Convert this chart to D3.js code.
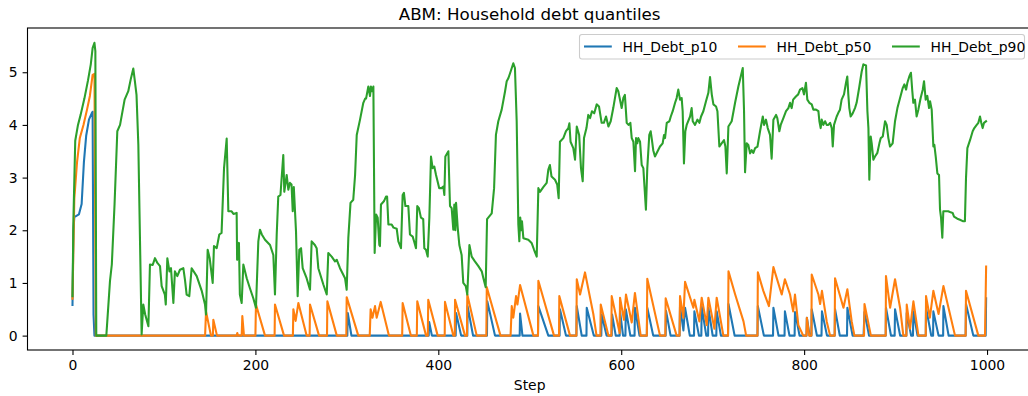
<!DOCTYPE html>
<html>
<head>
<meta charset="utf-8">
<script src="https://cdn.jsdelivr.net/npm/d3@7"></script>
<style>
  body { margin: 0; background: #fff; }
  svg { display: block; font-family: "DejaVu Sans", sans-serif; }
</style>
</head>
<body>
<div id="chart"></div>
<script>
// values, [step, value]
const p10 = [[0,0.58],[1,2.0],[2,2.25],[7,2.3],[10,2.5],[12.5,3.3],[15,3.8],[18,4.1],[21,4.22],[22,4.25],[23,0.4],[24,0],
  [300.5,0],[301,0.43],[305,0],[389.5,0],[390,0.26],[393,0],[419,0],[419.4,0.43],[425,0],[431.7,0],[432,0.56],[438,0],
  [453.2,0],[453.6,0.65],[462,0],[489,0],[489.4,0.42],[492,0],[509,0],[509.4,0.56],[520.3,0],[532.6,0],[533,0.5],[539.6,0],
  [551,0],[551.4,0.56],[556.8,0],[562,0],[562.3,0.53],[570,0],[578.2,0],[578.6,0.4],[584,0],[589.6,0],[590,0.4],[594,0],
  [598.3,0],[598.7,0.46],[602,0],[604.6,0],[605,0.5],[610,0],[614.6,0],[615,0.53],[620,0],[628,0],[628.5,0.53],[635,0],
  [648.6,0],[649,0.47],[654,0],[663.8,0],[664.3,0.56],[668,0.1],[669.8,0.53],[675,0],[679.6,0],[680,0.46],[685,0],
  [687.6,0],[688,0.55],[693,0],[695,0],[695.3,0.53],[700,0],[704,0],[704.4,0.46],[709,0],[716.8,0],[717.3,0.6],[724,0],
  [749,0],[749.4,0.56],[756,0],[766,0],[766.4,0.53],[772,0],[778.6,0],[779,0.46],[784,0],[789.6,0],[790,0.45],[795,0],
  [802.6,0],[803,0.34],[806,0],[808,0],[808.3,0.5],[814,0],[819,0],[819.5,0.46],[825,0],[833.4,0],[833.8,0.5],[839,0],
  [846.9,0],[847.3,0.53],[853,0],[865,0],[866,0.45],[871,0],[889.2,0],[889.5,0.53],[895,0],[899,0],[899.4,0.5],[905,0],
  [911.8,0],[912.2,0.43],[917,0],[919,0],[919.5,0.46],[924,0],[933,0],[933.3,0.53],[939,0],[941,0],[941.3,0.46],[947,0],
  [952,0],[952.3,0.56],[958,0],[976.6,0],[977,0.6],[985,0],[998.5,0],[999,0.71]];

const p50 = [[0,0.7],[2,2.6],[5,3.3],[8,3.75],[12,4.0],[16,4.3],[19,4.55],[22,4.95],[24,4.97],[25.5,0],
  [145,0],[146,0.46],[151.4,0],[153.5,0],[154,0.3],[158,0],[179.5,0],[180.2,0.05],[181,0],[185,0],[185.7,0.37],[187.5,0],
  [200,0],[200.6,0.59],[210.5,0],[221,0],[221.4,0.59],[231.3,0],[241,0],[241.5,0.5],[244,0.28],[247,0.62],[256,0],
  [259.3,0],[259.7,0.59],[269.6,0],[278.3,0],[278.7,0.65],[289,0],[299.4,0],[299.8,0.73],[312.5,0],[325,0],[326,0.5],
  [328,0.34],[330.8,0.56],[332.6,0.34],[337,0.64],[346,0],[360.5,0],[361,0.62],[370,0],[376.5,0],[377,0.65],[386.6,0],
  [388.5,0],[389,0.68],[399.3,0],[407,0],[407.3,0.64],[416.4,0],[418,0],[418.3,0.68],[429.2,0],[431.3,0],[431.7,0.78],
  [442,0],[452.5,0],[453,0.92],[468,0],[479,0],[480.3,0.56],[482,0.34],[485,0.75],[486.5,0.59],[489.4,0.96],[504,0],
  [509,0],[509.4,1.04],[526.5,0],[532,0],[532.3,0.75],[544,0],[551,0],[551.4,1.07],[555,0.78],[560.4,1.2],[569.5,0.41],
  [573,0],[577.2,0],[577.6,0.59],[586,0],[589.2,0],[589.6,0.75],[598.3,0.05],[598.7,0.72],[603,0.3],[605.2,0.78],
  [611.5,0.25],[615,0.81],[621.3,0],[628,0],[628.5,1.08],[642.4,0],[648.2,0],[648.6,0.71],[660.6,0],[663.8,0],[664.3,0.75],
  [668,0.34],[669.8,1.02],[678.9,0.53],[680,0.68],[685.5,0.27],[688,0.72],[693.5,0.2],[695.3,0.72],[701.9,0.13],
  [704.4,0.72],[711.7,0],[716.8,0],[717.3,1.22],[724.6,0.78],[733.7,0.27],[736.6,0],[749,0],[749.4,1.2],[755.4,0.85],
  [761.5,0.56],[766.4,1.3],[775.5,0.78],[779,1.07],[784.6,0.78],[788,0.46],[790,0.78],[793.7,0.2],[799,0],[802.5,0],
  [803,0.34],[805.5,0],[808,0],[808.3,1.16],[815.6,0.78],[817.5,0.6],[819.5,0.85],[824.7,0.27],[828.4,0],[833.4,0],
  [833.8,1.09],[843,0.53],[847.3,0.88],[852,0.27],[855,0],[865.5,0],[866,0.6],[873,0],[889.2,0],[889.5,1.13],[894,0.53],
  [899.4,1.07],[904.9,0.53],[908.5,0],[911.8,0],[912.2,0.59],[915.8,0.13],[919.5,0.65],[925,0],[933,0],[933.3,0.75],
  [937.5,0.34],[941.3,0.85],[947,0.41],[952.3,0.94],[965,0],[976.6,0],[977,0.85],[990.5,0],[997.8,0],[999,1.31]];

const p90 = [[0,0.75],[1,2.2],[3,3.7],[6,4.0],[9,4.2],[13,4.5],[17,4.85],[20,5.15],[22,5.46],[24,5.56],[25,5.4],[26,0],[37,0],
  [41,1.04],[43,1.35],[46,2.5],[49,3.88],[52,4.0],[57,4.48],[61,4.64],[63.6,4.86],[66.5,5.07],[68,4.86],[70,4.57],[72,3.62],
  [75.6,0.02],[77.4,0.59],[79.5,0.4],[83,0.18],[84.7,1.35],[87.7,1.34],[90.2,1.47],[92.8,1.38],[95.7,1.32],[97.5,0.94],
  [101,0.78],[102,0.59],[103.7,1.47],[106,1.22],[107.7,1.28],[110.3,0.62],[112,1.22],[114.6,1.13],[117.5,1.25],[121.2,1.28],
  [123,1.06],[124.8,0.78],[127.7,0.75],[130.3,1.28],[135.8,1.13],[141.3,0.85],[144.9,0.59],[146,0.4],[147.8,1.63],[150,1.47],
  [153.3,1.0],[154.7,1.7],[157.7,1.66],[160.5,1.92],[163,1.95],[165.7,3.18],[168.6,3.74],[170.4,2.36],[174,2.36],[176,2.31],
  [179.5,2.33],[180,1.44],[182,1.76],[183,0.78],[185,0.62],[186.8,1.35],[190.5,1.09],[194,0.9],[197.7,0.71],[200.6,0.53],
  [203.2,1.79],[205,2.01],[207,1.92],[210.5,1.82],[216,1.72],[219.6,1.53],[221.4,0.78],[223.3,1.92],[225,2.64],[227.4,2.67],
  [230.5,3.43],[231.6,2.73],[234.2,3.05],[236,2.77],[237.8,2.9],[239.5,2.87],[240.8,2.36],[242,2.82],[244.4,1.98],
  [246.2,0.75],[248,1.63],[249.9,1.66],[251.7,1.28],[256,1.09],[259.7,0.87],[261.5,1.79],[265,1.72],[267,1.66],[268.8,1.28],
  [274.3,0.97],[278,0.78],[279.7,1.57],[283.4,1.5],[287,1.41],[289,1.44],[292.5,1.28],[298,1.09],[299.8,0.87],[301.6,1.85],
  [304,2.52],[307,2.58],[309,3.05],[310.8,3.81],[314.4,4.1],[318,4.42],[320,4.5],[321,4.5],[323.5,4.73],[325.3,4.55],
  [326.3,4.73],[327.5,4.64],[329,4.73],[330.4,1.57],[332,2.3],[333.7,2.24],[335.5,1.72],[336.2,1.7],[337.3,2.49],
  [340.5,2.55],[342.8,2.64],[344,2.64],[345.4,2.11],[349,2.11],[351,2.05],[354.5,2.03],[356.3,1.79],[359.2,1.66],[361,2.67],
  [362.4,2.71],[364,2.46],[367.2,2.46],[369,1.92],[372,1.88],[373.5,1.79],[375.6,1.66],[377,2.46],[378.8,2.42],[381,2.24],
  [383.5,2.21],[384.7,1.66],[386.5,1.63],[388.4,1.5],[390.2,2.24],[392,3.4],[393.8,3.18],[395.6,3.21],[397.5,3.05],
  [399.3,2.92],[401,2.8],[403.5,2.8],[405.5,2.83],[406.6,2.67],[407.7,3.4],[411,3.5],[412.8,2.46],[414.6,2.42],[416.4,2.01],
  [417.5,2.49],[418.6,2.0],[419.4,2.52],[421.2,2.05],[423,1.72],[425.5,1.53],[427.3,1.0],[430,0.94],[431.7,0.78],[434,1.72],
  [436.5,1.5],[440,1.41],[443.8,1.32],[447.5,1.22],[449.3,1.09],[451.8,0.92],[453.3,2.21],[458.4,2.32],[461,2.8],[463,3.81],
  [465.6,4.07],[469.3,4.29],[473,4.64],[474.8,4.83],[476.7,4.89],[479,5.01],[482,5.17],[483.8,5.08],[485.7,4.07],
  [487.5,2.11],[488.6,1.79],[489.6,2.24],[490.7,2.0],[491.5,2.17],[493,1.85],[498.4,1.82],[502,1.76],[504.7,1.63],
  [507.6,1.5],[509.4,2.8],[511.2,2.73],[514.8,2.82],[518.5,2.9],[520.3,3.15],[522,3.24],[523.8,3.02],[527.6,2.96],[530,2.87],
  [531.6,2.61],[533,3.68],[536.7,3.75],[539.6,3.88],[542.2,3.94],[543.3,4.03],[544.6,3.68],[547.6,3.56],[549.5,3.34],
  [551.4,3.97],[554,3.81],[556,3.18],[557.9,2.93],[559.3,3.75],[562,3.94],[564,4.19],[566,4.13],[568,4.26],[570.5,4.22],
  [573.2,4.39],[575.7,4.35],[578.6,4.04],[581,4.04],[583.4,4.16],[586,3.97],[588.5,4.07],[591.3,4.32],[595,4.7],[596.8,4.64],
  [600.5,4.32],[602.3,4.51],[604,4.57],[606,4.04],[608,4.0],[610,4.04],[611.5,3.75],[613.3,3.68],[615.1,3.12],[616.2,3.75],
  [617.6,3.65],[618.7,3.75],[620.6,3.68],[622.4,3.24],[624.2,3.18],[627,2.39],[628.5,3.18],[630.7,3.81],[632.2,3.88],
  [633.6,3.71],[635,3.52],[636.9,3.4],[639.5,3.49],[642.4,3.59],[645.3,3.65],[646.8,3.81],[647.9,3.75],[649.8,4.04],
  [652.7,4.07],[654.2,4.16],[656.3,4.26],[658.9,4.42],[660.6,4.51],[662.4,4.67],[664.3,4.48],[666.1,4.51],[667.2,4.26],
  [668.6,3.27],[670.1,3.88],[671.6,4.0],[675.3,4.16],[677,4.32],[678.2,4.07],[680.7,4.0],[683.3,4.1],[685.5,4.04],
  [687.3,4.16],[689.8,4.26],[692.7,4.45],[695.3,4.61],[697.1,4.91],[699,4.58],[700.8,4.39],[703.7,4.35],[705.2,4.26],
  [707.3,3.59],[709.8,3.65],[712.4,3.71],[713.9,3.59],[715.4,3.08],[717.2,3.97],[720.8,4.07],[724.5,4.42],[728.1,4.73],
  [730.7,4.92],[732.9,5.08],[734.3,4.26],[735.4,3.1],[737.2,3.65],[739,3.62],[740.9,3.46],[742.7,3.52],[744.5,3.47],
  [746.4,3.56],[749,3.59],[751.8,3.88],[754.8,4.16],[756.2,4.0],[758.3,4.1],[760.2,3.94],[762.7,3.81],[764.5,3.36],
  [766.4,4.1],[769.3,4.19],[770.7,4.13],[772.9,3.88],[774.4,4.0],[777.3,4.13],[780.2,4.26],[782.8,4.32],[784.6,4.42],
  [786.4,4.32],[788,4.48],[791,4.54],[793.5,4.58],[795.5,4.67],[798.1,4.7],[799.9,4.58],[802,4.8],[803.5,4.48],[805.7,4.42],
  [808.3,4.39],[810.1,4.29],[813,4.29],[815.6,4.26],[816.7,4.07],[818.1,3.94],[819.2,4.1],[821,4.0],[822.9,4.07],[824.7,4.0],
  [826.5,4.0],[828.4,4.04],[830.2,3.94],[831.3,3.59],[832.7,4.0],[835.6,4.16],[837.4,4.23],[839.2,4.29],[841,4.48],
  [843.6,4.58],[845.8,4.8],[847.2,4.92],[848.3,4.58],[849.4,4.32],[850.9,4.16],[853.1,4.22],[855.6,4.32],[857.4,4.42],
  [860.4,4.73],[862.9,5.01],[864.8,5.15],[867.7,5.13],[869.2,4.26],[870.3,3.94],[871.3,2.96],[872.8,3.78],[873.9,3.65],
  [875.7,3.34],[877.5,3.4],[880.1,3.47],[882.3,3.65],[883.8,3.75],[886,3.78],[888.5,4.07],[890.3,4.0],[892.1,3.75],
  [893.9,3.59],[896.8,3.65],[899.4,4.07],[902,4.32],[904.9,4.51],[907.8,4.7],[909.6,4.77],[911.5,4.67],[912.9,4.8],
  [915,4.92],[916.8,4.99],[918.3,4.64],[919.4,4.42],[921.2,4.48],[923,4.16],[924.9,4.29],[927.4,4.51],[929.7,4.67],
  [931.1,4.83],[932.9,4.48],[934.7,4.55],[936.6,4.32],[937.7,4.45],[939.5,4.29],[941.3,3.59],[942.4,3.62],[943.9,3.4],
  [945.7,3.08],[947.5,3.05],[948.6,2.39],[949.7,2.24],[951.1,1.86],[952.2,2.36],[954,2.36],[957.6,2.36],[960.2,2.34],
  [962.4,2.33],[963.9,2.26],[967.5,2.22],[970.4,2.2],[974,2.17],[975.8,2.17],[977,2.99],[978.5,3.56],[981.4,3.71],
  [984.3,3.88],[986.1,3.94],[988.7,4.0],[990.5,4.04],[992.3,4.16],[993.7,4.04],[995.2,3.94],[996.7,4.04],[998.9,4.07]];

const seriesNames = ['HH_Debt_p10', 'HH_Debt_p50', 'HH_Debt_p90'];
const seriesColors = ['#1f77b4', '#ff7f0e', '#2ca02c'];
const xTicks = [0, 200, 400, 600, 800, 1000];
const yTicks = [0, 1, 2, 3, 4, 5];
const chartTitle = 'ABM: Household debt quantiles';
const xLabel = 'Step';

const width = 1028;
const height = 396;
const plotLeft = 27.5, plotRight = 1031.8, plotTop = 28, plotBottom = 350;

const svg = d3.select('#chart').append('svg')
  .attr('width', width)
  .attr('height', height);

const xScale = d3.scaleLinear().domain([-49.2, 1048.95]).range([plotLeft, plotRight]);
const yScale = d3.scaleLinear().domain([-0.273, 5.84]).range([plotBottom, plotTop]);

svg.append('clipPath').attr('id', 'plotclip')
  .append('rect')
  .attr('x', plotLeft).attr('y', plotTop)
  .attr('width', plotRight - plotLeft).attr('height', plotBottom - plotTop);

const line = d3.line()
  .x(d => xScale(d[0]))
  .y(d => yScale(d[1]));

const lines = svg.append('g').attr('clip-path', 'url(#plotclip)');
[p10, p50, p90].forEach((s, i) => {
  lines.append('path')
    .attr('d', line(s))
    .style('fill', 'none')
    .style('stroke', seriesColors[i])
    .style('stroke-width', 2.08)
    .style('stroke-linejoin', 'round')
    .style('stroke-linecap', 'square');
});

/* axes */
const xAxis = d3.axisBottom(xScale).tickValues(xTicks).tickFormat(d3.format('d'))
  .tickSize(4.9).tickPadding(4.9);
const yAxis = d3.axisLeft(yScale).tickValues(yTicks).tickFormat(d3.format('d'))
  .tickSize(4.9).tickPadding(4.9);

const gx = svg.append('g')
  .attr('transform', `translate(0, ${plotBottom})`)
  .call(xAxis);
const gy = svg.append('g')
  .attr('transform', `translate(${plotLeft}, 0)`)
  .call(yAxis);

[gx, gy].forEach(g => {
  g.select('.domain').remove();
  g.selectAll('.tick line').style('stroke', '#000').style('stroke-width', 1.1);
  g.selectAll('.tick text')
    .style('font-family', '"DejaVu Sans", sans-serif')
    .style('font-size', '13.9px')
    .style('fill', '#000');
});

// spines
svg.append('rect')
  .attr('x', plotLeft).attr('y', plotTop)
  .attr('width', plotRight - plotLeft).attr('height', plotBottom - plotTop)
  .style('fill', 'none')
  .style('stroke', '#000')
  .style('stroke-width', 1.1);

svg.append('text')
  .attr('x', (plotLeft + plotRight) / 2)
  .attr('y', 20)
  .attr('text-anchor', 'middle')
  .style('font-size', '16.7px')
  .style('fill', '#000')
  .text(chartTitle);

svg.append('text')
  .attr('x', (plotLeft + plotRight) / 2)
  .attr('y', 390)
  .attr('text-anchor', 'middle')
  .style('font-size', '13.9px')
  .style('fill', '#000')
  .text(xLabel);

// legend
const legend = svg.append('g');
legend.append('rect')
  .attr('x', 579.5).attr('y', 34.5)
  .attr('width', 445).attr('height', 24.5)
  .attr('rx', 2.5)
  .style('fill', 'rgba(255,255,255,0.8)')
  .style('stroke', '#cccccc')
  .style('stroke-width', 1.1);

const legendX = [584, 738, 892];
seriesNames.forEach((name, i) => {
  legend.append('line')
    .attr('x1', legendX[i]).attr('x2', legendX[i] + 27.8)
    .attr('y1', 46.5).attr('y2', 46.5)
    .style('stroke', seriesColors[i])
    .style('stroke-width', 2.08);
  legend.append('text')
    .attr('x', legendX[i] + 38.5)
    .attr('y', 51.5)
    .style('font-size', '13.9px')
    .style('fill', '#000')
    .text(name);
});
</script>
</body>
</html>
